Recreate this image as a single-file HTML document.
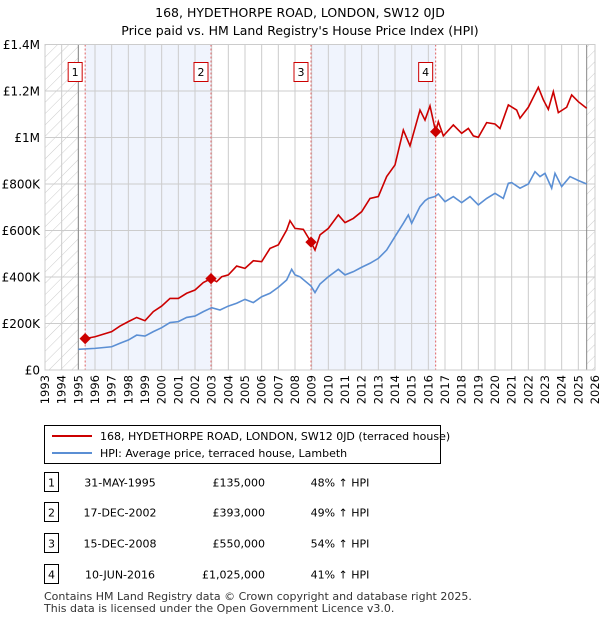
<!DOCTYPE html>
<html><head><meta charset="utf-8"><style>
body{margin:0;background:#fff;font-family:"Liberation Sans","DejaVu Sans",sans-serif;}
svg text{font-family:"DejaVu Sans","Liberation Sans",sans-serif;}
</style></head><body>
<svg id="c" width="600" height="620" xmlns="http://www.w3.org/2000/svg">
<defs><pattern id="h" width="8" height="8" patternUnits="userSpaceOnUse" patternTransform="rotate(45)"><line x1="0" y1="0" x2="0" y2="8" stroke="#ccc" stroke-width="1"/></pattern></defs>
<text x="300" y="17" text-anchor="middle" font-size="12.5">168, HYDETHORPE ROAD, LONDON, SW12 0JD</text>
<text x="300" y="35" text-anchor="middle" font-size="12.5">Price paid vs. HM Land Registry's House Price Index (HPI)</text>
<g id="plot"></g>
<g>
<rect x="44.5" y="425.5" width="396" height="38" fill="#fff" stroke="#000"/>
<line x1="52" y1="436" x2="92" y2="436" stroke="#cc0000" stroke-width="2"/>
<text x="100" y="440" font-size="11">168, HYDETHORPE ROAD, LONDON, SW12 0JD (terraced house)</text>
<line x1="52" y1="453" x2="92" y2="453" stroke="#5b8fd4" stroke-width="2"/>
<text x="100" y="457" font-size="11">HPI: Average price, terraced house, Lambeth</text>
</g>
<g id="tbl" font-size="11"></g>
<text x="44" y="600" font-size="11" fill="#333">Contains HM Land Registry data © Crown copyright and database right 2025.</text>
<text x="44" y="612" font-size="11" fill="#333">This data is licensed under the Open Government Licence v3.0.</text>
</svg>
<script>
const hpiYears=[1995,1996,1997,1997.5,1998,1998.5,1999,1999.5,2000,2000.5,2001,2001.5,2002,2002.5,2003,2003.5,2004,2004.5,2005,2005.5,2006,2006.5,2007,2007.5,2007.8,2008,2008.3,2008.96,2009.2,2009.5,2010,2010.6,2011,2011.5,2012,2012.5,2013,2013.5,2014,2014.5,2014.8,2015,2015.5,2015.8,2016,2016.4,2016.6,2017,2017.5,2018,2018.5,2019,2019.5,2020,2020.5,2020.8,2021,2021.5,2022,2022.4,2022.7,2023,2023.4,2023.6,2024,2024.5,2025,2025.5];
const hpiValues=[89,93,100,115,129,150,146,165,182,204,208,226,232,251,268,258,275,287,304,290,315,330,356,387,433,409,401,361,333,370,401,433,409,423,442,459,480,516,574,631,667,631,703,728,738,746,757,724,746,720,746,710,738,760,738,803,806,782,800,853,832,846,782,846,789,832,815,800];
const priceYears=[1995.41,1996,1997,1997.5,1998,1998.5,1999,1999.5,2000,2000.5,2001,2001.5,2002,2002.5,2002.96,2003.3,2003.6,2004,2004.5,2005,2005.5,2006,2006.5,2007,2007.5,2007.7,2008,2008.5,2008.96,2009.2,2009.5,2010,2010.6,2011,2011.5,2012,2012.5,2013,2013.5,2014,2014.5,2014.9,2015.5,2015.8,2016.1,2016.44,2016.6,2016.9,2017.5,2018,2018.4,2018.7,2019,2019.5,2020,2020.3,2020.8,2021.3,2021.5,2022,2022.6,2022.9,2023.2,2023.5,2023.8,2024.3,2024.6,2025,2025.5];
const priceValues=[135,143,165,189,208,226,212,251,275,308,308,330,344,376,393,380,401,409,447,437,470,466,523,538,602,642,609,605,550,516,581,609,667,634,652,681,738,746,832,882,1032,964,1118,1075,1136,1025,1068,1007,1054,1018,1039,1007,1001,1064,1058,1039,1140,1118,1083,1130,1216,1162,1121,1197,1107,1130,1183,1154,1126];
const saleLabels=["1","2","3","4"];
const saleYears=[1995.41,2002.96,2008.96,2016.44];
const saleValues=[135,393,550,1025];
const saleDates=["31-MAY-1995","17-DEC-2002","15-DEC-2008","10-JUN-2016"];
const salePrices=["£135,000","£393,000","£550,000","£1,025,000"];
const saleHpi=["48% ↑ HPI","49% ↑ HPI","54% ↑ HPI","41% ↑ HPI"];
const yTicks=[0,200,400,600,800,1000,1200,1400];
const yTickLabels=["£0","£200K","£400K","£600K","£800K","£1M","£1.2M","£1.4M"];
const xTicks=[];for(let y=1993;y<=2026;y++)xTicks.push(y);
const dataStart=1995,dataEnd=2025.5;

const L=45,R=595,T=44.5,B=370;
const X=y=>L+(y-1993)*(R-L)/33;
const Y=v=>B-v*(B-T)/1400;
const NS="http://www.w3.org/2000/svg";
const plot=document.getElementById('plot');
function mk(tag,attrs,parent){const e=document.createElementNS(NS,tag);for(const k in attrs)e.setAttribute(k,attrs[k]);(parent||plot).appendChild(e);return e;}
// shading
for(let i=0;i<4;i+=2){const r=mk('rect',{x:X(saleYears[i]),y:T,width:X(saleYears[i+1])-X(saleYears[i]),height:B-T,fill:'#f0f4fd'});

}
let hl=mk('rect',{x:L,y:T,width:X(dataStart)-L,height:B-T,fill:'url(#h)'});


let hr=mk('rect',{x:X(dataEnd),y:T,width:R-X(dataEnd),height:B-T,fill:'url(#h)'});


// grid
xTicks.forEach(t=>{const g=mk('line',{x1:X(t),x2:X(t),y1:T,y2:B,stroke:'#ccc','stroke-width':1});


const tx=mk('text',{x:0,y:0,'font-size':11.5,'text-anchor':'end',transform:`translate(${X(t)+4},${B+5}) rotate(-90)`});tx.textContent=t;

});
yTicks.forEach((t,i)=>{const g=mk('line',{x1:L,x2:R,y1:Y(t),y2:Y(t),stroke:'#ccc','stroke-width':1});


const tx=mk('text',{x:40,y:Y(t)+4.5,'font-size':12,'text-anchor':'end'});tx.textContent=yTickLabels[i];

});
[dataStart,dataEnd].forEach(d=>{const l=mk('line',{x1:X(d),x2:X(d),y1:T,y2:B,stroke:'#888','stroke-width':1});

});
// sale vlines + labels
saleYears.forEach((s,i)=>{const l=mk('line',{x1:X(s),x2:X(s),y1:T,y2:B,stroke:'#e06060','stroke-width':1,'stroke-dasharray':'2,2'});


const bx=mk('rect',{x:X(s)-17,y:62.5,width:14,height:19,fill:'#fff',stroke:'#cc0000'});


const tx=mk('text',{x:X(s)-10,y:76,'font-size':11,'text-anchor':'middle'});tx.textContent=saleLabels[i];

});
// lines
const hp=mk('polyline',{points:hpiYears.map((y,i)=>X(y)+','+Y(hpiValues[i])).join(' '),fill:'none',stroke:'#5b8fd4','stroke-width':1.6});


const pp=mk('polyline',{points:priceYears.map((y,i)=>X(y)+','+Y(priceValues[i])).join(' '),fill:'none',stroke:'#cc0000','stroke-width':1.6});


saleYears.forEach((s,i)=>{const d=mk('rect',{x:X(s)-4,y:Y(saleValues[i])-4,width:8,height:8,fill:'#cc0000',transform:`rotate(45 ${X(s)} ${Y(saleValues[i])})`});

});
const fr=mk('rect',{x:L,y:T,width:R-L,height:B-T,fill:'none',stroke:'#ccc'});


// table
const tbl=document.getElementById('tbl');
const rowsY=[483,513,544,575];
saleLabels.forEach((lb,i)=>{const y=rowsY[i];
const b=mk('rect',{x:44.5,y:y-10.5,width:14,height:19,fill:'#fff',stroke:'#000'},tbl);


const cells=[[51.5,lb,'middle'],[120,saleDates[i],'middle'],[265,salePrices[i],'end'],[340,saleHpi[i],'middle']];
cells.forEach(c=>{const t=mk('text',{x:c[0],y:y+3.5,'text-anchor':c[2],'font-size':11},tbl);t.textContent=c[1];

});});
</script>
</body></html>
